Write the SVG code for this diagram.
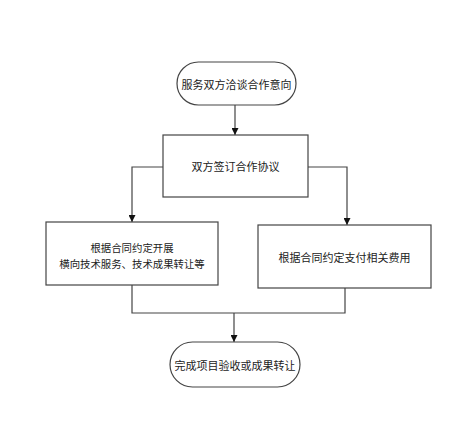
<svg xmlns="http://www.w3.org/2000/svg" width="466" height="425" viewBox="0 0 466 425">
<defs>
<marker id="arr" viewBox="0 0 10 10" refX="10" refY="5" markerWidth="7" markerHeight="7" markerUnits="userSpaceOnUse" orient="auto">
<path d="M0,0 L10,5 L0,10 Z" fill="#111"/>
</marker>
<style>
.box{fill:#fff;stroke:#444;stroke-width:1.2}
.ln{fill:none;stroke:#444;stroke-width:1.2}
text{font-family:"Noto Sans CJK SC","Liberation Serif",sans-serif;font-size:11px;fill:#222;text-anchor:middle;dominant-baseline:central}
.sm{font-size:10.4px}
</style>
</defs>
<rect width="466" height="425" fill="#fff"/>
<g id="connectors">
<path class="ln" d="M235,105 V135" marker-end="url(#arr)"/>
<path class="ln" d="M163,167 H132 V222" marker-end="url(#arr)"/>
<path class="ln" d="M308,167 H347 V225" marker-end="url(#arr)"/>
<path class="ln" d="M132,285 V313 H345 V288"/>
<path class="ln" d="M234,313 V342" marker-end="url(#arr)"/>
</g>
<g id="n1">
<rect class="box" x="177" y="62" width="119" height="43" rx="21.5"/>
<text x="236.5" y="83.5">服务双方洽谈合作意向</text>
</g>
<g id="n2">
<rect class="box" x="163" y="135" width="145" height="62"/>
<text x="235.5" y="166">双方签订合作协议</text>
</g>
<g id="n3">
<rect class="box" x="46" y="222" width="172" height="63"/>
<text class="sm" x="132" y="247.5">根据合同约定开展</text>
<text class="sm" x="132" y="263">横向技术服务、技术成果转让等</text>
</g>
<g id="n4">
<rect class="box" x="258" y="225" width="173" height="63"/>
<text x="344.5" y="257">根据合同约定支付相关费用</text>
</g>
<g id="n5">
<rect class="box" x="170" y="342" width="130" height="45" rx="22.5"/>
<text x="235" y="365">完成项目验收或成果转让</text>
</g>
</svg>
